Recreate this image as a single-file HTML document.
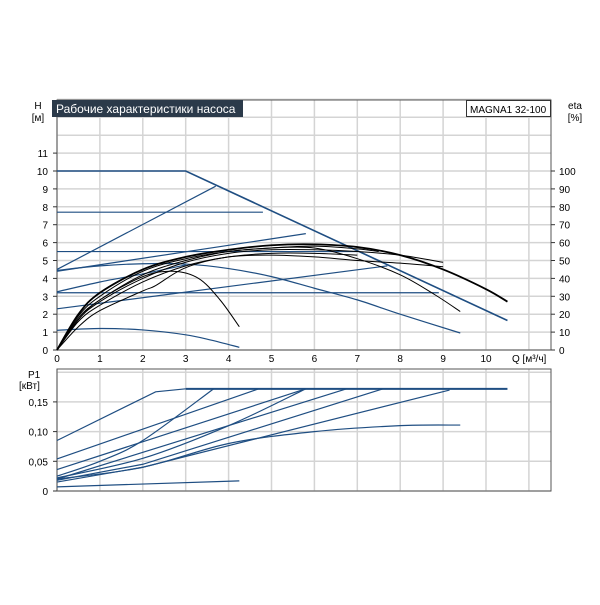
<!DOCTYPE html>
<html><head><meta charset="utf-8"><style>
body{margin:0;background:#fff;}
svg text{font-family:"Liberation Sans",sans-serif;font-size:10px;fill:#000;}
</style></head><body>
<svg id="chart" width="600" height="600" xmlns="http://www.w3.org/2000/svg">
<rect width="600" height="600" fill="#fff"/>
<g id="g"></g>
</svg>
<script>
// ---- data ----
const qTicks=[0,1,2,3,4,5,6,7,8,9,10];
const hTicks=[0,1,2,3,4,5,6,7,8,9,10,11];
const etaTicks=[0,10,20,30,40,50,60,70,80,90,100];
const pTicks=[0,0.05,0.10,0.15];
const pTickLabels=["0","0,05","0,10","0,15"];
// blue head curves: [q...],[h...]
const blueQ=[[0,3,10.5],[0,3.7],[0,4.8],[0,7.0],[0,5.8],[0,1,2,3,4,5,6,7,8,9.4],[0,1,2,3],[0,8.9],[0,7.7],[0,1,2,3,3.6,4.25]];
const blueH=[[10,10,1.65],[4.5,9.15],[7.7,7.7],[5.5,5.5],[4.4,6.5],[4.45,4.7,4.82,4.8,4.55,4.1,3.45,2.8,2.0,0.95],[3.25,3.8,4.25,4.75],[3.2,3.2],[2.3,4.7],[1.1,1.2,1.12,0.85,0.55,0.15]];
// black efficiency curves
const blackQ=[[0,0.5,1,2,3,4,5,6,7,8,9,10,10.5],[0,0.5,1,2,3,4,5,6,7,8,8.8,9.4],[0,0.5,1,2,2.7,3.3,3.8,4.25],[0,0.5,1,2,2.3,3,4,5,6,7,8,9],[0,0.5,1,2,3,4,5,6,7,7.5],[0,0.5,1,2,3,4,5,6,7,8,9],[0,0.5,1,2,3,4,5,6,7]];
const blackH=[[0,2,3.2,4.5,5.2,5.6,5.85,5.9,5.75,5.3,4.5,3.4,2.7],[0,1.9,3.0,4.4,5.1,5.5,5.7,5.7,5.1,4.2,3.1,2.15],[0,1.7,2.8,4.1,4.4,4.0,2.8,1.3],[0,1.3,2.2,3.3,3.6,4.6,5.2,5.3,5.2,5.0,4.85,4.65],[0,1.8,2.8,4.2,5.0,5.5,5.7,5.8,5.65,5.5],[0,1.7,2.7,4.0,4.9,5.4,5.6,5.6,5.5,5.3,4.9],[0,1.6,2.5,3.8,4.7,5.2,5.4,5.4,5.3]];
const blackW=[1.8,1,1,1,1,1,1];
// power curves
const powQ=[[3,10.5],[0,2.3,3],[0,4.7],[0,1,2,3.65],[0,5.8],[0,2,4,5.8],[0,6.75],[0,2,7.6],[0,2,9.15],[0,2,4,6,8,9.4],[0,4.25]];
const powP=[[0.172,0.172],[0.085,0.167,0.172],[0.054,0.172],[0.025,0.05,0.085,0.172],[0.036,0.172],[0.022,0.055,0.11,0.172],[0.02,0.172],[0.018,0.045,0.172],[0.015,0.04,0.17],[0.02,0.04,0.08,0.1,0.11,0.111],[0.007,0.017]];

// ---- scales ----
const X0=57,XR=551,QU=42.9;
const x=q=>X0+q*QU;
const yH=h=>350-h*17.9;
const yP=p=>491-p*594;
const NS="http://www.w3.org/2000/svg";
const G=document.getElementById('g');
function el(t,a,txt){const e=document.createElementNS(NS,t);for(const k in a)e.setAttribute(k,a[k]);if(txt!==undefined)e.textContent=txt;G.appendChild(e);return e;}
function smooth(pts){let d="M"+pts[0][0]+","+pts[0][1];
 if(pts.length<4){for(let i=1;i<pts.length;i++)d+="L"+pts[i][0]+","+pts[i][1];return d;}
 for(let i=0;i<pts.length-1;i++){const p0=pts[Math.max(0,i-1)],p1=pts[i],p2=pts[i+1],p3=pts[Math.min(pts.length-1,i+2)];
 const c1=[p1[0]+(p2[0]-p0[0])/6,p1[1]+(p2[1]-p0[1])/6],c2=[p2[0]-(p3[0]-p1[0])/6,p2[1]-(p3[1]-p1[1])/6];
 d+="C"+c1+" "+c2+" "+p2;}return d;}

// ---- top plot grid ----
for(let h=0;h<=14;h++){const l=el('line',{x1:X0,x2:XR,y1:yH(h),y2:yH(h),stroke:'#d4d4d4','stroke-width':1.5});
}
for(let q=0;q<=11;q++){const l=el('line',{x1:x(q),x2:x(q),y1:100,y2:350,stroke:'#d4d4d4','stroke-width':1.5});
}
let r=el('rect',{x:X0,y:100,width:XR-X0,height:250,fill:'none',stroke:'#555'});

hTicks.forEach(h=>{el('line',{x1:X0-4,x2:X0,y1:yH(h),y2:yH(h),stroke:'#333'});
 const t=el('text',{x:X0-9,y:yH(h)+4,'text-anchor':'end'},String(h));
 });
etaTicks.forEach(e=>{el('line',{x1:XR,x2:XR+4,y1:yH(e/10),y2:yH(e/10),stroke:'#333'});
 const t=el('text',{x:XR+8,y:yH(e/10)+4},String(e));
 });
qTicks.forEach(q=>{const t=el('text',{x:x(q),y:362,'text-anchor':'middle'},String(q));
 });
let t;
t=el('text',{x:512,y:362},'Q [м³/ч]');
t=el('text',{x:38,y:109,'text-anchor':'middle'},'H');
t=el('text',{x:38,y:121,'text-anchor':'middle'},'[м]');
t=el('text',{x:575,y:109,'text-anchor':'middle'},'eta');
t=el('text',{x:575,y:121,'text-anchor':'middle'},'[%]');
r=el('rect',{x:52,y:100,width:191,height:17,fill:'#2b3a4a'});
t=el('text',{x:56,y:113,style:'fill:#fff;font-size:12px'},'Рабочие характеристики насоса');
r=el('rect',{x:466.5,y:100.5,width:84,height:16,fill:'#fff',stroke:'#333'});
t=el('text',{x:470,y:113},'MAGNA1 32-100');

blueQ.forEach((qs,i)=>{const pts=qs.map((q,j)=>[x(q),yH(blueH[i][j])]);
 const p=el('path',{d:pts.length>3?smooth(pts):smooth(pts),fill:'none',stroke:'#1f4e82','stroke-width':i==0?1.6:1.2});
 });
blackQ.forEach((qs,i)=>{const pts=qs.map((q,j)=>[x(q),yH(blackH[i][j])]);
 const p=el('path',{d:smooth(pts),fill:'none',stroke:'#000','stroke-width':blackW[i]});
 });

// ---- bottom plot ----
for(let k=0;k<=4;k++){const l=el('line',{x1:X0,x2:XR,y1:yP(k*0.05),y2:yP(k*0.05),stroke:'#d4d4d4','stroke-width':1.5});
}
for(let q=0;q<=11;q++){const l=el('line',{x1:x(q),x2:x(q),y1:369,y2:491,stroke:'#d4d4d4','stroke-width':1.5});
}
r=el('rect',{x:X0,y:369,width:XR-X0,height:122,fill:'none',stroke:'#555'});

pTicks.forEach((p,i)=>{el('line',{x1:X0-4,x2:X0,y1:yP(p),y2:yP(p),stroke:'#333'});
 const tt=el('text',{x:X0-9,y:yP(p)+4,'text-anchor':'end'},pTickLabels[i]);
 });
t=el('text',{x:28,y:378},'P1');
t=el('text',{x:19,y:389},'[кВт]');
powQ.forEach((qs,i)=>{const pts=qs.map((q,j)=>[x(q),yP(powP[i][j])]);
 const p=el('path',{d:smooth(pts),fill:'none',stroke:'#1f4e82','stroke-width':i==0?2:1.2});
 });
</script>
</body></html>
